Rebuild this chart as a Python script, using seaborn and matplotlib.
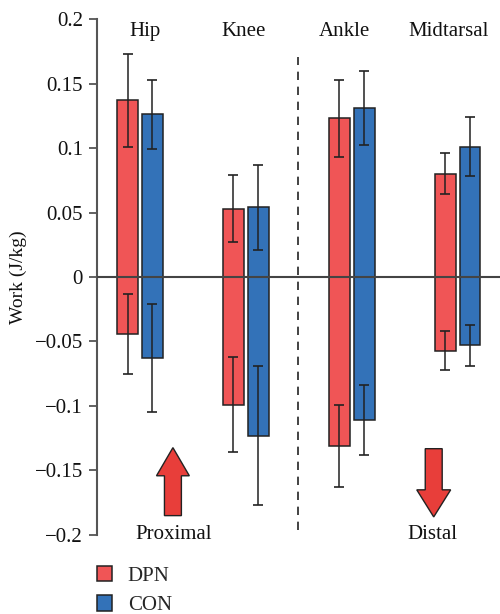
import seaborn as sns
import matplotlib
matplotlib.use("Agg")
import matplotlib.pyplot as plt
from matplotlib.patches import FancyArrow
import pandas as pd

joints = ["Hip", "Knee", "Ankle", "Midtarsal"]
groups = ["DPN", "CON"]

# positive (generation) work, mean and SD
pos_dpn = [0.137, 0.053, 0.123, 0.080]
pos_dpn_sd = [0.036, 0.026, 0.030, 0.016]
pos_con = [0.126, 0.054, 0.131, 0.101]
pos_con_sd = [0.027, 0.033, 0.029, 0.023]

# negative (absorption) work, mean and SD
neg_dpn = [-0.044, -0.099, -0.131, -0.057]
neg_dpn_sd = [0.031, 0.037, 0.032, 0.015]
neg_con = [-0.063, -0.123, -0.111, -0.053]
neg_con_sd = [0.042, 0.054, 0.027, 0.016]

yticks = [-0.2, -0.15, -0.1, -0.05, 0, 0.05, 0.1, 0.15, 0.2]
yticklabels = ["\u22120.2", "\u22120.15", "\u22120.1", "\u22120.05", "0",
               "0.05", "0.1", "0.15", "0.2"]

red = "#F05556"
blue = "#3372B8"

sns.set_style("white")
plt.rcParams["font.family"] = ["Liberation Serif", "DejaVu Serif"]

df_pos = pd.DataFrame({
    "joint": joints * 2,
    "group": ["DPN"] * 4 + ["CON"] * 4,
    "work": pos_dpn + pos_con,
})
df_neg = pd.DataFrame({
    "joint": joints * 2,
    "group": ["DPN"] * 4 + ["CON"] * 4,
    "work": neg_dpn + neg_con,
})

fig = plt.figure(figsize=(5, 6.14), dpi=100)
ax = fig.add_axes([0.194, 0.1287, 0.806, 0.8403])

pal = {"DPN": red, "CON": blue}
for d in (df_pos, df_neg):
    sns.barplot(data=d, x="joint", y="work", hue="group", hue_order=groups,
                palette=pal, width=0.47, gap=0.17, errorbar=None,
                edgecolor="#222222", linewidth=1.1, saturation=1,
                legend=(d is df_pos), ax=ax)

errs = [pos_dpn_sd, pos_con_sd, neg_dpn_sd, neg_con_sd]
for cont, sd in zip(ax.containers, errs):
    xs = [b.get_x() + b.get_width() / 2 for b in cont]
    ys = [b.get_y() + b.get_height() for b in cont]
    ax.errorbar(xs, ys, yerr=sd, fmt="none", ecolor="#222222",
                elinewidth=1.1, capsize=3.7, capthick=1.2, zorder=4)

ax.axhline(0, color="#444444", lw=1.5, zorder=5)
ax.vlines(1.49, -0.196, 0.1705, colors="#222222", linestyles=(0, (5, 4)), lw=1.2)

label_x = [0.05, -0.02, -0.07, -0.09]
for i, j in enumerate(joints):
    ax.text(i + label_x[i], 0.19, j, ha="center", va="center", fontsize=15, color="#111111")

ax.text(0.32, -0.2, "Proximal", ha="center", va="center", fontsize=15, color="#111111")
ax.text(2.76, -0.2, "Distal", ha="center", va="center", fontsize=15, color="#111111")

ax.add_patch(FancyArrow(0.311, -0.185, 0, 0.0527, width=0.16, head_width=0.31,
                        head_length=0.0218, length_includes_head=True,
                        facecolor="#E83E3A", edgecolor="#222222", lw=1.0, zorder=3))
ax.add_patch(FancyArrow(2.774, -0.1331, 0, -0.0529, width=0.16, head_width=0.32,
                        head_length=0.021, length_includes_head=True,
                        facecolor="#E83E3A", edgecolor="#222222", lw=1.0, zorder=3))

ax.set_xlim(-0.406, 3.40)
ax.set_ylim(-0.2, 0.2)
ax.set_yticks(yticks)
ax.set_yticklabels(yticklabels, fontsize=15, color="#111111")
ax.set_xticks([])
ax.set_xlabel("")
ax.set_ylabel("Work (J/kg)", fontsize=14, color="#111111", labelpad=6)
ax.tick_params(axis="y", left=True, direction="out", length=6, width=1.3,
               color="#555555", pad=4)
for s in ["top", "right", "bottom"]:
    ax.spines[s].set_visible(False)
ax.spines["left"].set_color("#555555")
ax.spines["left"].set_linewidth(1.5)

handles, labels = ax.get_legend_handles_labels()
ax.get_legend().remove()
fig.legend(handles[:2], labels[:2], loc="upper left", bbox_to_anchor=(0.193, 0.078),
           frameon=False, fontsize=15, handlelength=0.75, handleheight=0.75,
           labelspacing=0.45, handletextpad=0.75, borderaxespad=0, borderpad=0)

fig.savefig("out.png", dpi=100)
